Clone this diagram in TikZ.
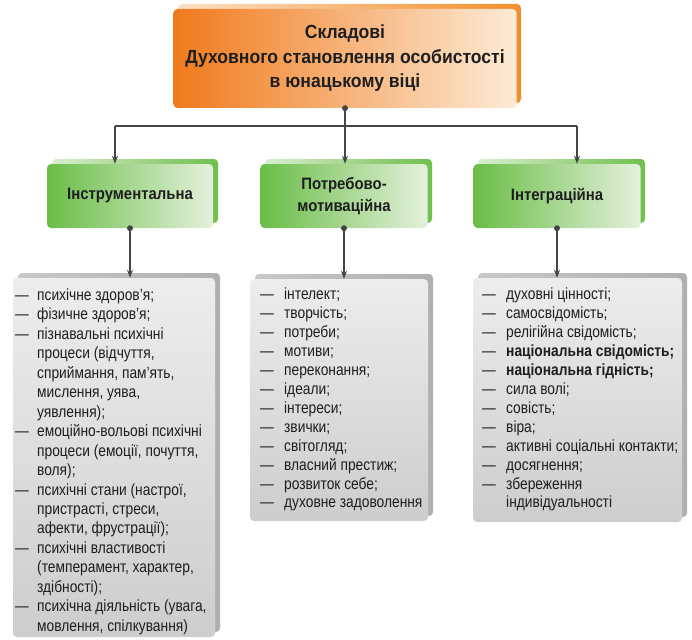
\documentclass[tikz,border=0pt]{standalone}
\usepackage{fontspec}
\setmainfont{Liberation Sans}
\newfontfamily\nlist{Liberation Sans}[FakeStretch=0.85]
\newfontfamily\ntitle{Liberation Sans}[FakeStretch=0.925]
\newfontfamily\ngrn{Liberation Sans}[FakeStretch=0.905]
\usetikzlibrary{arrows.meta}
\definecolor{orgA}{HTML}{F07A1C}
\definecolor{orgB}{HTML}{FDEBD6}
\definecolor{orgS}{HTML}{F28F2C}
\definecolor{orgL}{HTML}{FBE0C4}
\definecolor{grnA}{HTML}{6ABD47}
\definecolor{grnB}{HTML}{E4F1DC}
\definecolor{grnS}{HTML}{6FC04C}
\definecolor{grnL}{HTML}{D9EDCF}
\definecolor{gryA}{HTML}{EDEDED}
\definecolor{gryB}{HTML}{CDCDCD}
\definecolor{gryS}{HTML}{B0B0B0}
\definecolor{gryL}{HTML}{C8C8C8}
\definecolor{lnk}{HTML}{454545}
\definecolor{txt}{HTML}{1E1E1E}
\newlength\lidw
\setlength\lidw{22pt}
\newcommand\lidash{\makebox[\lidw][l]{—}}
\newcommand\liind{\hspace*{\lidw}}
\tikzset{
  topbox/.style={rectangle, rounded corners=4pt, inner sep=0pt, left color=orgA, right color=orgB,
     align=center, text=txt, font=\ntitle\bfseries\fontsize{19}{24.5}\selectfont},
  grnbox/.style={rectangle, rounded corners=4pt, inner sep=0pt, left color=grnA, right color=grnB,
     align=center, text=txt, font=\ngrn\bfseries\fontsize{16.5}{22.5}\selectfont},
  grybox/.style={rectangle, rounded corners=4pt, inner sep=0pt, top color=gryA, bottom color=gryB},
  listtxt/.style={anchor=base west, inner sep=0pt, text=txt},
  conn/.style={draw=lnk, line width=1.3pt},
  arr/.style={conn, -{Stealth[length=8pt,width=6pt]}},
  dotc/.style={circle, fill=lnk, inner sep=0pt, minimum size=6pt},
  oshadow/.style={rounded corners=4pt, left color=orgL, right color=orgS},
  gshadow/.style={rounded corners=4pt, left color=grnL, right color=grnS},
  yshadow/.style={rounded corners=4pt, left color=gryL, right color=gryS}
}
\begin{document}
\begin{tikzpicture}[x=1pt,y=-1pt]
\useasboundingbox (0,0) rectangle (692,639);
% shadows
\shade[oshadow] (178,4) rectangle (521,103);
\shade[gshadow] (52,159) rectangle (218,223);
\shade[gshadow] (265,159) rectangle (432,223);
\shade[gshadow] (478,159) rectangle (645,223);
\shade[yshadow] (18,273) rectangle (220,632);
\shade[yshadow] (255,274) rectangle (433,516);
\shade[yshadow] (478,273) rectangle (687,517);
% main boxes
\node[topbox, minimum width=343pt, minimum height=99pt] (top) at (345,58.5)
  {Складові\\Духовного становлення особистості\\в юнацькому віці};
\node[grnbox, minimum width=166pt, minimum height=64pt] (g1) at (130,196) {Інструментальна};
\node[grnbox, minimum width=167pt, minimum height=64pt] (g2) at (344,196) {Потребово-\\мотиваційна};
\node[grnbox, minimum width=167pt, minimum height=64pt] (g3) at (557,196) {Інтеграційна};
\node[grybox, minimum width=202pt, minimum height=359pt] (b1) at (114,457.5) {};
\node[grybox, minimum width=178pt, minimum height=242pt] (b2) at (339,400) {};
\node[grybox, minimum width=209pt, minimum height=244pt] (b3) at (577.5,400) {};
% list texts
\node[listtxt] (t1) at (15,300.5) {\parbox[t]{205pt}{\nlist\fontsize{16.2}{19.45}\selectfont\raggedright
\lidash психічне здоров’я;\\
\lidash фізичне здоров’я;\\
\lidash пізнавальні психічні\\
\liind процеси (відчуття,\\
\liind сприймання, пам’ять,\\
\liind мислення, уява,\\
\liind уявлення);\\
\lidash емоційно-вольові психічні\\
\liind процеси (емоції, почуття,\\
\liind воля);\\
\lidash психічні стани (настрої,\\
\liind пристрасті, стреси,\\
\liind афекти, фрустрації);\\
\lidash психічні властивості\\
\liind (темперамент, характер,\\
\liind здібності);\\
\lidash психічна діяльність (увага,\\
\liind мовлення, спілкування)}};
\setlength\lidw{24pt}
\node[listtxt] (t2) at (260,299.5) {\parbox[t]{175pt}{\nlist\fontsize{16.2}{18.95}\selectfont\raggedright
\lidash інтелект;\\
\lidash творчість;\\
\lidash потреби;\\
\lidash мотиви;\\
\lidash переконання;\\
\lidash ідеали;\\
\lidash інтереси;\\
\lidash звички;\\
\lidash світогляд;\\
\lidash власний престиж;\\
\lidash розвиток себе;\\
\lidash духовне задоволення}};
\node[listtxt] (t3) at (482,299.5) {\parbox[t]{210pt}{\nlist\fontsize{16.2}{18.95}\selectfont\raggedright
\lidash духовні цінності;\\
\lidash самосвідомість;\\
\lidash релігійна свідомість;\\
\lidash \textbf{національна свідомість;}\\
\lidash \textbf{національна гідність;}\\
\lidash сила волі;\\
\lidash совість;\\
\lidash віра;\\
\lidash активні соціальні контакти;\\
\lidash досягнення;\\
\lidash збереження\\
\liind індивідуальності}};
% connectors
\coordinate (hl) at (115,126);
\coordinate (hr) at (577,126);
\draw[conn] (hl) -- (hr);
\draw[arr] (top.south) -- (top.south |- g2.north);
\draw[arr] (hl) -- (hl |- g1.north);
\draw[arr] (hr) -- (hr |- g3.north);
\draw[arr] (g1.south) -- (g1.south |- b1.north);
\draw[arr] (g2.south) -- (g2.south |- b2.north);
\draw[arr] (g3.south) -- (g3.south |- b3.north);
\node[dotc] (d0) at (top.south) {};
\node[dotc] (d1) at (g1.south) {};
\node[dotc] (d2) at (g2.south) {};
\node[dotc] (d3) at (g3.south) {};
\end{tikzpicture}
\end{document}
